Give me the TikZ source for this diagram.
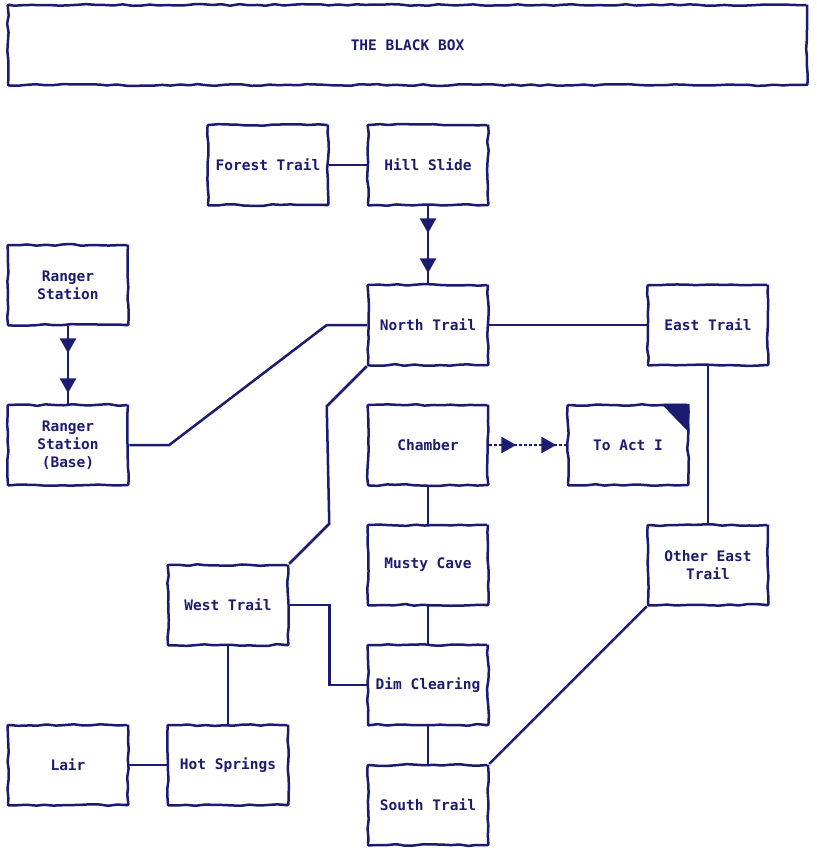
\documentclass[tikz,border=0pt]{standalone}
\usepackage{fontspec}
\setmonofont{DejaVu Sans Mono}
\usetikzlibrary{decorations.pathmorphing,decorations.markings,arrows.meta,calc}
\definecolor{ink}{RGB}{27,27,112}
\begin{document}
\pgfmathsetseed{11}
\begin{tikzpicture}[x=1pt,y=-1pt,
  every node/.style={font=\ttfamily\bfseries\fontsize{14.5}{18}\selectfont, text=ink},
  room/.style={draw=ink, line width=2.5pt, fill=white, inner sep=0pt,
    minimum width=120pt, minimum height=80pt, align=center,
    decorate, decoration={random steps, segment length=9pt, amplitude=0.9pt},
    rounded corners=0.8pt},
  banner/.style={room, minimum width=799pt},
  link/.style={draw=ink, line width=2.5pt},
  twoarrows/.style={link, postaction={decorate},
    decoration={markings,
      mark=at position 27pt with {\arrow[ink]{Triangle[length=15pt,width=16pt]}},
      mark=at position 67pt with {\arrow[ink]{Triangle[length=15pt,width=16pt]}}}},
  exitlink/.style={twoarrows, dash pattern=on 2.5pt off 2.5pt}
]
\useasboundingbox (0,0) rectangle (816,853);

% title banner
\node[banner] (box) at (407.5,45) {THE BLACK BOX};

% rooms
\node[room] (forest) at (268,165) {Forest Trail};
\node[room] (hill)   at (428,165) {Hill Slide};
\node[room] (ranger) at (68,285)  {Ranger\\Station};
\node[room] (north)  at (428,325) {North Trail};
\node[room] (east)   at (708,325) {East Trail};
\node[room] (base)   at (68,445)  {Ranger\\Station\\(Base)};
\node[room] (chamber) at (428,445) {Chamber};
\node[room] (act)    at (628,445) {To Act I};
\node[room] (musty)  at (428,565) {Musty Cave};
\node[room] (other)  at (708,565) {Other East\\Trail};
\node[room] (west)   at (228,605) {West Trail};
\node[room] (dim)    at (428,685) {Dim Clearing};
\node[room] (lair)   at (68,765)  {Lair};
\node[room] (hot)    at (228,765) {Hot Springs};
\node[room] (south)  at (428,805) {South Trail};

% folded corner on the exit room
\fill[ink] ($(act.north east)+(-28,0)$) -- (act.north east) -- ($(act.north east)+(0,29)$) -- cycle;

% connections
\path[link] (forest) -- (hill);
\path[twoarrows] (hill.south) -- (north.north);
\path[twoarrows] (ranger.south) -- (base.north);
\path[link] (base.east) -- ++(40,0) -- ($(north.west)+(-40,0)$) -- (north.west);
\path[link] (north) -- (east);
\path[link] (north.south west) -- ++(-40,40) -- ($(west.north east)+(40,-40)$) -- (west.north east);
\path[link] (east) -- (other);
\path[exitlink] (chamber.east) -- (act.west);
\path[link] (chamber) -- (musty);
\path[link] (musty) -- (dim);
\path[link] (west.east) -- ++(40,0) |- (dim.west);
\path[link] (west) -- (hot);
\path[link] (lair) -- (hot);
\path[link] (dim) -- (south);
\path[link] (other.south west) -- (south.north east);
\end{tikzpicture}
\end{document}
